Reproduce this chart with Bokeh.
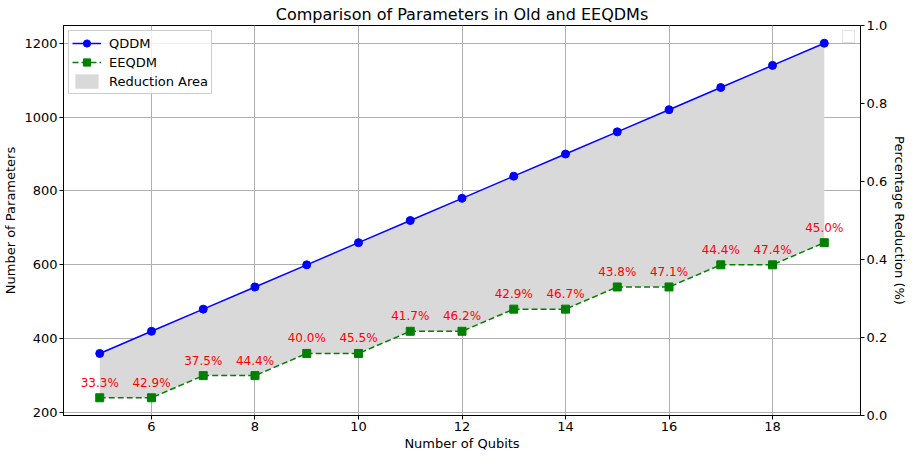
from bokeh.plotting import figure
from bokeh.models import (LinearAxis, Range1d, Legend, LegendItem, ColumnDataSource,
                          FixedTicker, Title, CustomJSTickFormatter)
from bokeh.core.properties import value
from bokeh.embed import file_html
from bokeh.resources import INLINE

qubits = [5, 6, 7, 8, 9, 10, 11, 12, 13, 14, 15, 16, 17, 18, 19]
qddm = [360, 420, 480, 540, 600, 660, 720, 780, 840, 900, 960, 1020, 1080, 1140, 1200]
eeqdm = [240, 240, 300, 300, 360, 360, 420, 420, 480, 480, 540, 540, 600, 600, 660]
reduction = [33.3, 42.9, 37.5, 44.4, 40.0, 45.5, 41.7, 46.2, 42.9, 46.7, 43.8, 47.1, 44.4, 47.4, 45.0]
x_ticks = [6, 8, 10, 12, 14, 16, 18]
y_ticks = [200, 400, 600, 800, 1000, 1200]
y2_ticks = [0.0, 0.2, 0.4, 0.6, 0.8, 1.0]

labels = [f"{r:.1f}%" for r in reduction]
src = ColumnDataSource(dict(x=qubits, q=qddm, e=eeqdm, lab=labels))

FONT = "DejaVu Sans"

p = figure(width=910, height=450, output_backend="svg", toolbar_location=None,
           x_range=Range1d(4.3, 19.7), y_range=Range1d(192, 1248),
           min_border_left=60, min_border_right=40, min_border_top=10, min_border_bottom=31)
p.title = Title(text="Comparison of Parameters in Old and EEQDMs", align="center",
                text_font=FONT, text_font_size="16px", text_font_style="normal",
                text_color="black", standoff=4)

p.extra_y_ranges = {"right": Range1d(0, 1)}

area = p.varea(x="x", y1="e", y2="q", source=src, fill_color="#d9d9d9", fill_alpha=1.0)
l1 = p.line(x="x", y="q", source=src, line_color="blue", line_width=1.5)
m1 = p.scatter(x="x", y="q", source=src, marker="circle", size=8, fill_color="blue", line_color="blue")
l2 = p.line(x="x", y="e", source=src, line_color="green", line_width=1.5, line_dash="6 3")
m2 = p.scatter(x="x", y="e", source=src, marker="square", size=8, fill_color="green", line_color="green")

p.text(x="x", y="e", text="lab", source=src, text_color="red", text_font=value(FONT),
       text_font_size="12px", text_align="center", text_baseline="bottom", y_offset=-8)

p.xaxis.ticker = FixedTicker(ticks=x_ticks)
p.yaxis.ticker = FixedTicker(ticks=y_ticks)
p.yaxis.axis_label = "Number of Parameters"

ax2 = LinearAxis(y_range_name="right", axis_label="Percentage Reduction (%)",
                 ticker=FixedTicker(ticks=y2_ticks))
p.add_layout(ax2, "right")

for ax in [p.xaxis[0], p.yaxis[0], ax2]:
    ax.major_label_text_font = FONT
    ax.major_label_text_font_size = "13px"
    ax.major_label_text_color = "black"
    ax.axis_label_text_font = FONT
    ax.axis_label_text_font_size = "13px"
    ax.axis_label_text_font_style = "normal"
    ax.axis_label_text_color = "black"
    ax.major_tick_in = 0
    ax.major_tick_out = 4
    ax.minor_tick_line_color = None
    ax.axis_line_color = "black"
    ax.major_tick_line_color = "black"
    ax.major_label_standoff = 2
    ax.axis_label_standoff = 3

ax2.axis_label_standoff = 2
ax2.formatter = CustomJSTickFormatter(code="return tick.toFixed(1);")

# x-axis label as a compact title below the axis
p.add_layout(Title(text="Number of Qubits", align="center", text_font=FONT,
                   text_font_size="13px", text_font_style="normal", text_color="black",
                   standoff=0), "below")

p.xgrid.grid_line_color = "#b0b0b0"
p.ygrid.grid_line_color = "#b0b0b0"
p.outline_line_color = "black"
p.outline_line_width = 1
p.outline_line_alpha = 1

legend = Legend(items=[
    LegendItem(label="QDDM", renderers=[l1, m1]),
    LegendItem(label="EEQDM", renderers=[l2, m2]),
    LegendItem(label="Reduction Area", renderers=[area]),
], location="top_left")
legend.label_text_font = FONT
legend.label_text_font_size = "13px"
legend.label_text_color = "black"
legend.border_line_color = "#cccccc"
legend.border_line_alpha = 1
legend.background_fill_alpha = 0.8
legend.margin = 5
legend.padding = 3
legend.spacing = 1
legend.glyph_width = 29
legend.glyph_height = 18
legend.label_height = 18
legend.label_standoff = 8
p.add_layout(legend)

# empty secondary legend (top right)
dummy = p.scatter(x=[], y=[], marker="square", fill_alpha=0, line_alpha=0)
legend2 = Legend(items=[LegendItem(label="", renderers=[dummy])], location="top_right")
legend2.margin = 5
legend2.padding = 1
legend2.glyph_width = 9
legend2.glyph_height = 9
legend2.label_width = 0
legend2.label_height = 9
legend2.label_standoff = 0
legend2.label_text_font_size = "1px"
legend2.border_line_color = "#cccccc"
legend2.background_fill_alpha = 0.8
p.add_layout(legend2)

open("out.html", "w").write(file_html(p, INLINE))
